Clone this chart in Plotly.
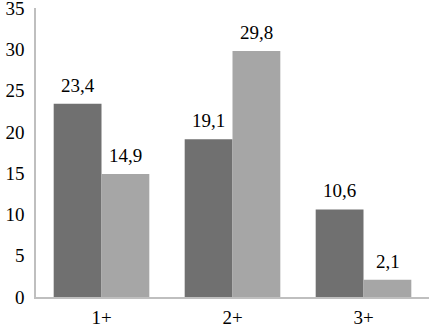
import plotly.graph_objects as go

categories = ["1+", "2+", "3+"]
series_a = [23.4, 19.1, 10.6]
series_b = [14.9, 29.8, 2.1]
y_ticks = [0, 5, 10, 15, 20, 25, 30, 35]

font = "Liberation Serif"
fsize = 19

fig = go.Figure()
for vals, color in ((series_a, "#707070"), (series_b, "#a6a6a6")):
    fig.add_trace(go.Bar(x=categories, y=vals, marker=dict(color=color, line=dict(width=0))))

for vals, shift in ((series_a, -24), (series_b, 24)):
    for c, v in zip(categories, vals):
        fig.add_annotation(x=c, y=v, xshift=shift, yshift=6, yanchor="bottom",
                           text=f"{v:.1f}".replace(".", ","), showarrow=False,
                           font=dict(family=font, size=fsize, color="#000000"))

fig.update_layout(
    width=431, height=327,
    margin=dict(l=36, r=2, t=8, b=30, autoexpand=False),
    barmode="group", bargap=0.27, bargroupgap=0,
    showlegend=False,
    plot_bgcolor="white", paper_bgcolor="white",
    font=dict(family=font, size=fsize, color="#000000"),
)
fig.update_xaxes(showline=True, linecolor="#bfbfbf", linewidth=1.5, showgrid=False,
                 automargin=False, ticks="", ticklabelstandoff=2,
                 tickfont=dict(family=font, size=fsize))
fig.update_yaxes(range=[0, 35], tickvals=y_ticks, showline=True, linecolor="#bfbfbf",
                 linewidth=1.5, showgrid=False, zeroline=False, ticks="", automargin=False,
                 ticklabelstandoff=6, ticklabeloverflow="allow",
                 tickfont=dict(family=font, size=fsize))

fig.write_html("out.html", config={"displayModeBar": False},
               post_script="document.body.style.margin='0';")
